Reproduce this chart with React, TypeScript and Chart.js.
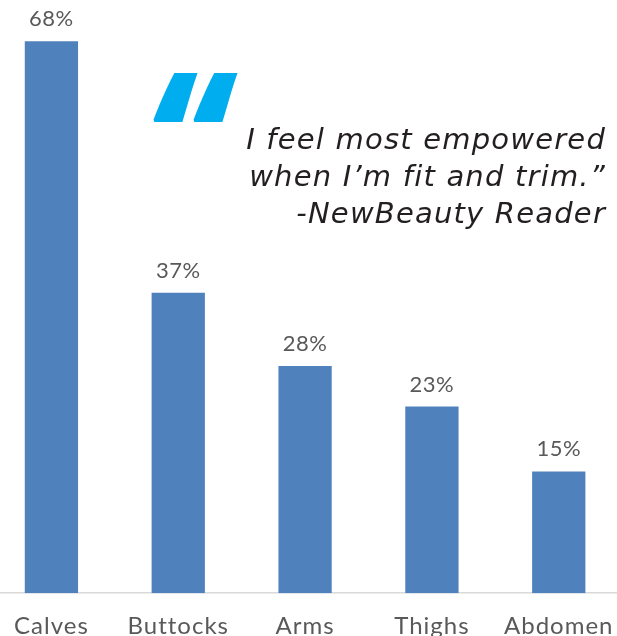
import React, { useEffect, useRef } from "react";
import { Chart, registerables } from "chart.js";

Chart.register(...registerables);

const categories = ["Calves", "Buttocks", "Arms", "Thighs", "Abdomen"];
const values = [68, 37, 28, 23, 15];
const quoteLines = ["I feel most empowered", "when I\u2019m fit and trim.\u201D", "-NewBeauty Reader"];
const quoteMark = "\u201C";

const OFFSET_X = 12; // canvas is shifted left so the first category is cropped like the reference

const valueLabelPlugin = {
  id: "valueLabels",
  afterDatasetsDraw(chart: any) {
    const ctx = chart.ctx;
    const meta = chart.getDatasetMeta(0);
    ctx.save();
    ctx.font = "22px Lato";
    (ctx as any).letterSpacing = "0.5px";
    ctx.fillStyle = "#595959";
    ctx.textAlign = "center";
    ctx.textBaseline = "alphabetic";
    meta.data.forEach((bar: any, i: number) => {
      ctx.fillText(values[i] + "%", bar.x, bar.y - 15);
    });
    ctx.restore();
  },
};

const quotePlugin = {
  id: "quote",
  afterDraw(chart: any) {
    const ctx = chart.ctx;
    ctx.save();
    // big blue quotation mark, fitted into its box
    ctx.font = "italic 800 200px 'Open Sans'";
    ctx.fillStyle = "#00AEEF";
    const m = ctx.measureText(quoteMark);
    const gw = m.actualBoundingBoxLeft + m.actualBoundingBoxRight;
    const gh = m.actualBoundingBoxAscent + m.actualBoundingBoxDescent;
    const boxX = 153 + OFFSET_X, boxY = 72, boxW = 85, boxH = 50;
    ctx.translate(boxX, boxY);
    ctx.scale(boxW / gw, boxH / gh);
    ctx.textAlign = "left";
    ctx.textBaseline = "alphabetic";
    ctx.fillText(quoteMark, m.actualBoundingBoxLeft, m.actualBoundingBoxAscent);
    ctx.restore();

    ctx.save();
    ctx.font = "italic 29px 'DejaVu Sans'";
    (ctx as any).letterSpacing = "1.2px";
    ctx.fillStyle = "#231F20";
    ctx.textAlign = "right";
    ctx.textBaseline = "alphabetic";
    const baselines = [149, 186, 223];
    quoteLines.forEach((line, i) => {
      ctx.fillText(line, 606 + OFFSET_X, baselines[i]);
    });
    ctx.restore();
  },
};

const tickSpacingPlugin = {
  id: "tickSpacing",
  beforeDraw(chart: any) {
    (chart.ctx as any).letterSpacing = "1px";
  },
  afterDraw(chart: any) {
    (chart.ctx as any).letterSpacing = "0px";
  },
};

export default function App() {
  const ref = useRef<HTMLCanvasElement | null>(null);
  useEffect(() => {
    if (!ref.current) return;
    const chart = new Chart(ref.current, {
      type: "bar",
      data: {
        labels: categories,
        datasets: [
          {
            data: values,
            backgroundColor: "#4F81BD",
            borderWidth: 0,
            barPercentage: 0.42,
            categoryPercentage: 1,
          },
        ],
      },
      options: {
        animation: false,
        responsive: true,
        maintainAspectRatio: false,
        layout: { padding: { top: 25, left: 0, right: 0, bottom: 0 } },
        plugins: { legend: { display: false }, tooltip: { enabled: false } },
        scales: {
          x: {
            grid: { display: false, drawTicks: false },
            border: { display: true, color: "#D9D9D9", width: 1.5 },
            ticks: {
              color: "#595959",
              font: { family: "Lato", size: 24 },
              padding: 19,
              autoSkip: false,
              maxRotation: 0,
            },
          },
          y: { display: false, min: 0, max: 70 },
        },
      },
      plugins: [tickSpacingPlugin, valueLabelPlugin, quotePlugin],
    });
    return () => chart.destroy();
  }, []);
  return (
    <div style={{ position: "fixed", left: 0, top: 0, width: 617, height: 636, overflow: "hidden", background: "#fff" }}>
      <div style={{ position: "absolute", left: -OFFSET_X, top: 0, width: 641, height: 660 }}>
        <canvas ref={ref} />
      </div>
    </div>
  );
}
